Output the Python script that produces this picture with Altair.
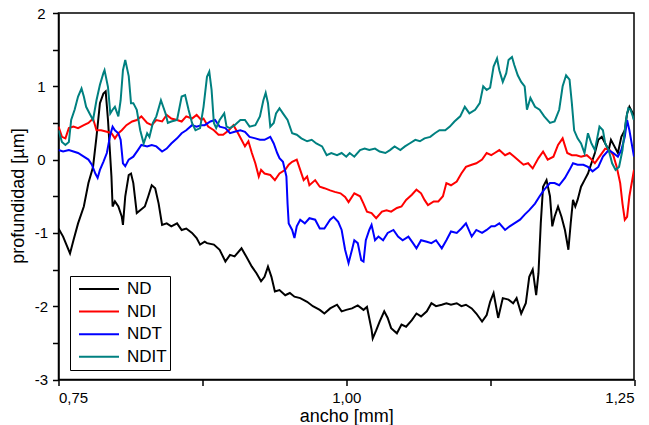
import altair as alt
import pandas as pd

# ---- data ----
nd_x = [0.750,0.754,0.760,0.763,0.767,0.772,0.776,0.780,0.783,0.786,0.789,0.791,0.793,0.796,0.797,0.799,0.802,0.805,0.806,0.808,
        0.811,0.813,0.815,0.818,0.821,0.825,0.828,0.831,0.834,0.837,0.840,0.844,0.848,0.853,0.857,0.861,0.866,0.870,0.873,0.877,
        0.879,0.885,0.890,0.895,0.899,0.903,0.909,0.913,0.918,0.922,0.926,0.929,0.932,0.935,0.938,0.942,0.947,0.951,0.955,0.960,
        0.966,0.971,0.977,0.981,0.986,0.992,0.996,1.000,1.005,1.010,1.015,1.018,1.022,1.023,1.026,1.029,1.033,1.036,1.039,1.044,
        1.048,1.052,1.057,1.061,1.065,1.070,1.074,1.078,1.083,1.087,1.091,1.096,1.100,1.104,1.109,1.113,1.118,1.122,1.125,1.128,
        1.132,1.136,1.141,1.145,1.148,1.152,1.156,1.159,1.162,1.165,1.167,1.169,1.171,1.174,1.177,1.179,1.181,1.184,1.187,1.190,
        1.193,1.195,1.197,1.199,1.201,1.204,1.207,1.210,1.213,1.216,1.219,1.222,1.225,1.228,1.230,1.233,1.236,1.239,1.242,1.244,
        1.246,1.249,1.250]
nd_y = [-0.94,-1.05,-1.28,-1.10,-0.87,-0.64,-0.32,-0.10,0.31,0.77,0.90,0.93,0.54,-0.23,-0.64,-0.57,-0.64,-0.78,-0.89,-0.50,
        -0.21,-0.19,-0.32,-0.73,-0.69,-0.64,-0.50,-0.35,-0.39,-0.60,-0.89,-0.87,-0.91,-0.87,-0.96,-0.94,-1.00,-1.07,-1.16,-1.12,
        -1.14,-1.16,-1.23,-1.39,-1.30,-1.32,-1.21,-1.32,-1.46,-1.55,-1.66,-1.60,-1.46,-1.60,-1.80,-1.78,-1.85,-1.82,-1.87,-1.89,
        -1.94,-2.00,-2.05,-2.10,-2.03,-1.98,-2.07,-2.05,-2.03,-1.99,-2.05,-2.01,-2.32,-2.44,-2.33,-2.21,-2.07,-2.16,-2.30,-2.37,
        -2.25,-2.28,-2.19,-2.10,-2.14,-2.07,-1.96,-2.00,-1.98,-1.96,-1.98,-1.96,-2.00,-1.98,-2.03,-2.10,-2.21,-2.12,-1.94,-1.82,
        -2.16,-1.89,-1.91,-1.96,-1.89,-2.10,-1.96,-1.60,-1.50,-1.85,-1.55,-0.87,-0.37,-0.28,-0.50,-0.91,-0.78,-0.64,-0.78,-0.96,
        -1.23,-0.87,-0.55,-0.64,-0.55,-0.37,-0.28,-0.19,-0.05,0.09,0.27,0.31,0.22,0.13,0.27,0.18,0.09,0.31,0.40,0.63,
        0.72,0.63,0.54]

ndi_x = [0.750,0.753,0.756,0.759,0.763,0.767,0.772,0.776,0.780,0.783,0.787,0.792,0.796,0.799,0.802,0.805,0.809,0.814,0.818,0.822,
         0.827,0.831,0.835,0.840,0.844,0.848,0.853,0.857,0.861,0.866,0.870,0.874,0.876,0.880,0.885,0.889,0.893,0.898,0.902,0.906,
         0.909,0.912,0.915,0.918,0.921,0.924,0.926,0.929,0.934,0.938,0.942,0.947,0.950,0.953,0.957,0.960,0.963,0.966,0.968,0.973,
         0.977,0.981,0.986,0.990,0.995,0.999,1.002,1.007,1.012,1.015,1.018,1.022,1.026,1.031,1.035,1.039,1.044,1.048,1.052,1.057,
         1.061,1.065,1.068,1.071,1.076,1.080,1.084,1.087,1.091,1.096,1.100,1.104,1.109,1.113,1.118,1.122,1.126,1.129,1.133,1.138,
         1.142,1.146,1.151,1.154,1.158,1.162,1.167,1.171,1.175,1.180,1.184,1.188,1.192,1.196,1.200,1.204,1.209,1.212,1.216,1.220,
         1.225,1.229,1.232,1.235,1.238,1.240,1.242,1.244,1.246,1.249,1.250]
ndi_y = [0.45,0.31,0.29,0.43,0.45,0.43,0.47,0.50,0.56,0.40,0.40,0.38,0.36,0.29,0.36,0.40,0.47,0.52,0.54,0.59,
         0.50,0.47,0.54,0.52,0.61,0.56,0.54,0.52,0.59,0.56,0.61,0.54,0.56,0.45,0.40,0.34,0.34,0.40,0.47,0.36,
         0.27,0.18,0.25,0.09,-0.05,-0.23,-0.14,-0.19,-0.21,-0.28,-0.19,-0.14,-0.07,-0.03,0.00,-0.14,-0.28,-0.23,-0.35,-0.28,
         -0.37,-0.39,-0.42,-0.44,-0.46,-0.51,-0.58,-0.46,-0.50,-0.60,-0.71,-0.73,-0.80,-0.71,-0.69,-0.71,-0.66,-0.64,-0.55,-0.48,
         -0.41,-0.46,-0.55,-0.62,-0.57,-0.57,-0.50,-0.32,-0.35,-0.30,-0.19,-0.10,-0.07,-0.05,0.00,0.09,0.06,0.09,0.13,0.06,
         0.09,0.04,-0.03,-0.07,-0.05,-0.12,0.02,0.11,0.00,0.04,0.20,0.29,0.09,0.06,0.06,0.04,0.06,0.02,-0.05,0.04,
         0.15,0.13,0.06,-0.10,-0.32,-0.60,-0.82,-0.78,-0.50,-0.23,-0.14]

ndt_x = [0.750,0.754,0.759,0.763,0.767,0.772,0.776,0.779,0.782,0.784,0.786,0.789,0.792,0.795,0.797,0.799,0.802,0.804,0.806,0.808,
         0.811,0.815,0.819,0.822,0.827,0.831,0.835,0.840,0.844,0.848,0.853,0.857,0.861,0.866,0.870,0.874,0.877,0.882,0.886,0.890,
         0.895,0.899,0.903,0.908,0.912,0.916,0.921,0.925,0.929,0.934,0.937,0.940,0.942,0.945,0.948,0.949,0.950,0.953,0.955,0.957,
         0.960,0.964,0.968,0.973,0.977,0.981,0.986,0.989,0.993,0.996,0.999,1.002,1.005,1.007,1.010,1.013,1.015,1.017,1.020,1.022,
         1.025,1.028,1.032,1.036,1.041,1.045,1.049,1.054,1.058,1.061,1.065,1.070,1.074,1.078,1.083,1.087,1.091,1.096,1.100,1.104,
         1.109,1.113,1.118,1.122,1.126,1.129,1.133,1.138,1.142,1.146,1.151,1.155,1.159,1.164,1.168,1.172,1.177,1.181,1.185,1.190,
         1.194,1.197,1.201,1.206,1.210,1.214,1.219,1.223,1.228,1.232,1.236,1.239,1.242,1.244,1.246,1.249,1.250]
ndt_y = [0.13,0.11,0.13,0.11,0.09,0.04,0.00,-0.07,-0.19,-0.25,-0.14,-0.03,0.09,0.34,0.45,0.40,0.36,0.27,-0.05,-0.09,
         0.00,0.04,0.13,0.20,0.18,0.20,0.18,0.11,0.15,0.22,0.29,0.36,0.40,0.47,0.45,0.47,0.47,0.52,0.54,0.45,
         0.43,0.36,0.38,0.40,0.38,0.31,0.29,0.27,0.27,0.31,0.22,0.09,0.02,-0.03,-0.23,-0.60,-0.87,-0.96,-1.07,-0.91,
         -0.82,-0.87,-0.80,-0.82,-0.94,-0.94,-0.82,-0.78,-0.85,-0.96,-1.23,-1.41,-1.23,-1.10,-1.14,-1.37,-1.39,-1.10,-0.96,-0.89,
         -1.10,-1.05,-1.10,-1.00,-0.96,-1.05,-1.10,-1.05,-1.14,-1.21,-1.10,-1.12,-1.14,-1.10,-1.21,-1.10,-0.98,-1.00,-0.94,-0.87,
         -1.05,-0.96,-1.00,-0.96,-0.91,-0.91,-0.87,-0.96,-0.91,-0.87,-0.82,-0.75,-0.69,-0.60,-0.50,-0.41,-0.32,-0.32,-0.35,-0.25,
         -0.14,-0.05,-0.07,-0.07,-0.10,-0.16,-0.10,0.04,0.13,0.09,0.04,0.13,0.31,0.54,0.40,0.13,0.04]

ndit_x = [0.750,0.753,0.756,0.759,0.761,0.764,0.767,0.770,0.772,0.774,0.777,0.780,0.783,0.786,0.789,0.790,0.793,0.795,0.797,0.799,
          0.802,0.804,0.806,0.808,0.811,0.813,0.815,0.818,0.821,0.824,0.827,0.829,0.832,0.835,0.839,0.843,0.845,0.848,0.853,0.857,
          0.860,0.863,0.866,0.869,0.873,0.876,0.879,0.881,0.883,0.885,0.887,0.890,0.894,0.896,0.899,0.903,0.908,0.912,0.916,0.921,
          0.925,0.928,0.930,0.932,0.934,0.937,0.939,0.942,0.945,0.949,0.953,0.957,0.961,0.966,0.970,0.974,0.979,0.983,0.987,0.992,
          0.996,1.000,1.003,1.007,1.012,1.016,1.020,1.025,1.029,1.034,1.038,1.042,1.047,1.051,1.055,1.060,1.064,1.068,1.073,1.077,
          1.081,1.086,1.090,1.094,1.099,1.103,1.107,1.112,1.116,1.119,1.122,1.125,1.128,1.131,1.133,1.136,1.139,1.141,1.144,1.146,
          1.149,1.152,1.155,1.157,1.160,1.164,1.168,1.172,1.177,1.181,1.185,1.188,1.191,1.194,1.196,1.198,1.201,1.204,1.207,1.210,
          1.213,1.216,1.220,1.223,1.225,1.228,1.231,1.234,1.237,1.240,1.243,1.245,1.247,1.249,1.250]
ndit_y = [0.40,0.24,0.20,0.24,0.54,0.68,0.86,0.97,0.86,0.72,0.63,0.54,0.81,1.02,1.18,1.22,0.99,0.63,0.68,0.72,
          0.59,0.81,1.22,1.36,1.14,0.77,0.77,0.68,0.40,0.22,0.36,0.31,0.50,0.59,0.81,0.63,0.50,0.52,0.54,0.86,
          0.88,0.68,0.50,0.40,0.43,0.72,1.13,1.20,0.95,0.50,0.43,0.54,0.63,0.45,0.43,0.47,0.54,0.54,0.45,0.47,
          0.59,0.81,0.91,0.77,0.45,0.50,0.63,0.70,0.63,0.54,0.36,0.34,0.29,0.25,0.27,0.22,0.18,0.06,0.09,0.06,
          0.09,0.04,0.09,0.04,0.13,0.15,0.13,0.15,0.11,0.09,0.13,0.18,0.13,0.18,0.22,0.27,0.25,0.29,0.31,0.36,
          0.40,0.40,0.45,0.52,0.59,0.72,0.63,0.68,0.77,1.00,0.95,0.98,1.27,1.38,1.22,1.06,1.18,1.36,1.40,1.29,
          1.15,1.06,1.00,0.68,0.84,0.72,0.68,0.59,0.50,0.52,0.68,1.00,1.15,1.09,0.77,0.40,0.29,0.22,0.09,0.36,
          0.22,0.13,0.45,0.40,0.22,0.13,-0.05,-0.14,-0.10,0.13,0.54,0.70,0.68,0.59,0.54]

series_names = ["ND", "NDI", "NDT", "NDIT"]
series_colors = ["#000000", "#ff0000", "#0000ff", "#008080"]

x_ticks = [0.75, 0.875, 1.0, 1.125, 1.25]
y_ticks = [-3, -2.5, -2, -1.5, -1, -0.5, 0, 0.5, 1, 1.5, 2]

# ---- build table ----
frames = []
for name, xs, ys in zip(series_names, [nd_x, ndi_x, ndt_x, ndit_x], [nd_y, ndi_y, ndt_y, ndit_y]):
    frames.append(pd.DataFrame({"ancho": xs, "prof": ys, "serie": name, "idx": range(len(xs))}))
df = pd.concat(frames, ignore_index=True)

FONT = "Liberation Sans"

x_enc = alt.X("ancho:Q",
              scale=alt.Scale(domain=[0.75, 1.25], nice=False, zero=False),
              axis=alt.Axis(title="ancho [mm]", values=x_ticks, grid=False,
                            labelExpr="(datum.value == 0.875 || datum.value == 1.125) ? '' : replace(format(datum.value, '.2f'), '.', ',')",
                            labelFontSize=15, labelPadding=5, tickSize=6,
                            titleFontSize=18, titleFontWeight="normal",
                            titleBaseline="alphabetic", titleY=42))
y_enc = alt.Y("prof:Q",
              scale=alt.Scale(domain=[-3, 2], nice=False, zero=False),
              axis=alt.Axis(title="profundidad [µm]", values=y_ticks, grid=False,
                            labelExpr="datum.value % 1 == 0 ? toString(datum.value) : ''",
                            labelFontSize=15, labelAlign="center", labelBaseline="middle",
                            labelPadding=11.5, tickSize=6,
                            titleFontSize=18, titleFontWeight="normal",
                            titleAngle=270, titleBaseline="alphabetic", titleX=-35, titleY=182.5))
color_enc = alt.Color("serie:N",
                      scale=alt.Scale(domain=series_names, range=series_colors),
                      legend=alt.Legend(title=None, orient="none", legendX=11.5, legendY=263,
                                        symbolType="stroke", symbolSize=1600, symbolStrokeWidth=2,
                                        labelFontSize=17, labelFont=FONT, labelOffset=7,
                                        symbolOffset=5, clipHeight=20, rowPadding=2.6,
                                        padding=3, strokeColor="black", fillColor="white"))

base = alt.Chart(df).mark_line(strokeWidth=2, clip=True).encode(
    x=x_enc, y=y_enc, color=color_enc, order="idx:Q")

layers = [base.transform_filter(alt.datum.serie == s) for s in series_names]

chart = alt.layer(*layers).properties(
    width=575.5, height=366.5,
    padding={"left": 50.5, "top": 5, "right": 7, "bottom": 45},
    autosize=alt.AutoSizeParams(type="none"),
).configure_view(
    stroke="black", strokeWidth=1.5
).configure_axis(
    domainColor="black", domainWidth=1.5, tickColor="black", tickWidth=1.5,
    labelColor="black", titleColor="black", labelFont=FONT, titleFont=FONT
)

chart.save("out.html", embed_options={"renderer": "svg", "actions": False})
